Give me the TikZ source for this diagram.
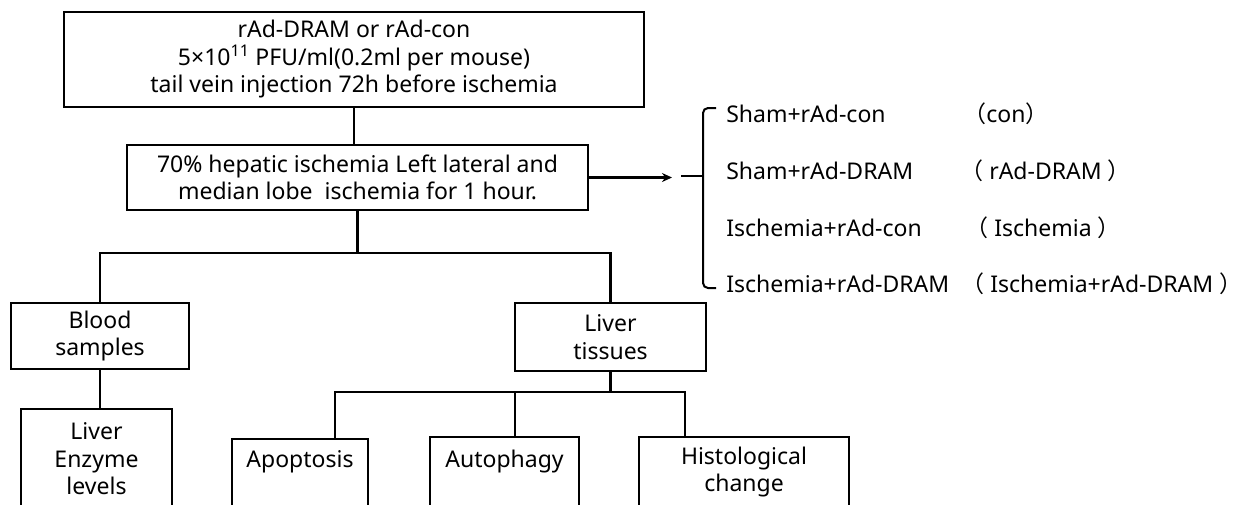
\documentclass[tikz,border=0pt]{standalone}
\usepackage{fontspec}
\setmainfont{Noto Sans}
\newfontfamily\cjk{Noto Sans CJK SC}
\usetikzlibrary{arrows.meta}
\begin{document}
\begin{tikzpicture}[x=1pt,y=-1pt, line width=2.6pt,
  box/.style={draw, rectangle, align=center, inner sep=0pt, font=\fontsize{23}{27.5}\selectfont},
  lbl/.style={anchor=base west, inner sep=0pt, font=\fontsize{23}{27.5}\selectfont},
  arr/.style={-{Stealth[length=10pt,width=9pt]}},
  brace/.style={line width=2pt, rounded corners=5pt}]
\useasboundingbox (0,0) rectangle (1241,504);
\clip (0,0) rectangle (1241,504);

\node[box, minimum width=580pt, minimum height=95pt] (inj) at (354,59.5)
  {rAd-DRAM or rAd-con\\5×10\textsuperscript{11} PFU/ml(0.2ml per mouse)\\tail vein injection 72h before ischemia};
\node[box, minimum width=461pt, minimum height=65pt] (isch) at (357.5,177.5)
  {70\% hepatic ischemia Left lateral and\\median lobe\ \ ischemia for 1 hour.};
\node[box, minimum width=178pt, minimum height=66pt] (blood) at (100,336) {Blood\\samples};
\node[box, minimum width=191pt, minimum height=68pt] (tissue) at (610.5,337) {Liver\\tissues};
\node[box, minimum width=151pt, minimum height=100pt] (enzyme) at (96.5,459) {Liver\\Enzyme\\levels};
\node[box, minimum width=136pt, minimum height=68pt] (apop) at (300,473) {Apoptosis\\\mbox{}};
\node[box, minimum width=149pt, minimum height=70pt] (auto) at (504.5,472) {Autophagy\\\mbox{}};
\node[box, minimum width=210pt, minimum height=70pt] (hist) at (744,472) {Histological\\change};

% groups
\node[lbl] (g1) at (725,122) {Sham+rAd-con};
\node[lbl] (g2) at (725,179) {Sham+rAd-DRAM};
\node[lbl] (g3) at (725,236) {Ischemia+rAd-con};
\node[lbl] (g4) at (725,292) {Ischemia+rAd-DRAM};
\node[lbl] (p1) at (962,122) {{\cjk （}con{\cjk ）}};
\node[lbl] (p2) at (959,179) {{\cjk （} rAd-DRAM {\cjk ）}};
\node[lbl] (p3) at (964,236) {{\cjk （} Ischemia {\cjk ）}};
\node[lbl] (p4) at (960,292) {{\cjk （} Ischemia+rAd-DRAM \makebox[0.4em][l]{\cjk ）}};

% connectors
\draw (inj.south) -- (inj.south |- isch.north);
\coordinate (s1) at (357.5,253);
\draw (isch.south) -- (s1);
\draw (blood.north) |- (s1) -| (tissue.north);
\draw (blood.south) -- (blood.south |- enzyme.north);
\coordinate (b1) at (335,392);
\coordinate (b2) at (515,392);
\coordinate (b3) at (685,392);
\draw (tissue.south) -- (tissue.south |- b1);
\draw (b1 |- apop.north) |- (b3) -- (b3 |- hist.north);
\draw (b2) -- (b2 |- auto.north);

% arrow and brace
\coordinate (at) at (672,176);
\coordinate (bm) at (703,176);
\coordinate (dl) at (681,176);
\coordinate (bt) at (716,108);
\coordinate (bb) at (716,288);
\draw[arr] (isch.east) -- (isch.east -| at);
\draw[brace] (bt) -| (bm) |- (bb);
\draw[line width=2pt] (dl) -- (bm);
\end{tikzpicture}
\end{document}
